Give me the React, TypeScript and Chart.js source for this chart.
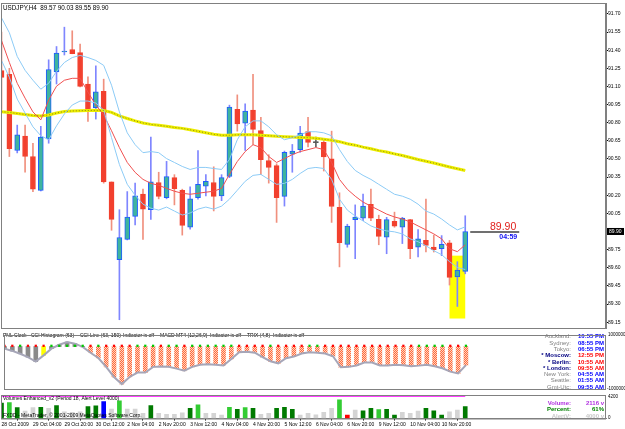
import React, { useEffect, useRef } from "react";
import { Chart, registerables } from "chart.js";
Chart.register(...registerables);

const TITLE = "USDJPY,H4  89.57 90.03 89.55 89.90";

const OPEN = [91.23, 91.2, 90.57, 90.69, 90.52, 90.24, 90.665, 91.22, 91.385, 91.405, 91.38, 91.12, 90.925, 91.06, 90.31, 89.667, 89.835, 90.025, 90.21, 90.08, 90.305, 90.18, 90.345, 90.24, 89.935, 90.18, 90.275, 90.305, 90.195, 90.355, 90.91, 90.795, 90.905, 90.735, 90.487, 90.445, 90.19, 90.54, 90.577, 90.727, 90.635, 90.637, 90.5, 90.1, 89.793, 89.998, 90.01, 90.125, 90.0, 89.853, 89.985, 89.935, 89.998, 89.77, 89.826, 89.77, 89.757, 89.807, 89.525, 89.57];
const HIGH = [91.55, 91.25, 90.78, 90.78, 90.63, 90.77, 91.32, 91.43, 91.59, 91.56, 91.45, 91.18, 91.27, 91.16, 90.31, 90.08, 90.23, 90.3, 90.25, 90.68, 90.39, 90.48, 90.37, 90.25, 90.27, 90.57, 90.37, 90.435, 90.37, 90.945, 91.03, 90.955, 91.2, 90.845, 90.535, 90.46, 90.565, 90.62, 90.77, 90.845, 90.68, 90.665, 90.73, 90.22, 89.96, 90.12, 90.21, 90.25, 90.035, 90.017, 90.06, 90.017, 90.0, 89.916, 90.167, 89.87, 89.866, 89.826, 89.65, 90.03];
const LOW = [90.91, 90.52, 90.55, 90.39, 90.23, 90.235, 90.63, 91.12, 91.36, 91.37, 91.095, 90.81, 90.83, 90.3, 89.91, 89.17, 89.83, 89.955, 89.835, 90.0, 90.17, 90.17, 90.12, 89.87, 89.92, 90.167, 90.195, 90.07, 90.155, 90.345, 90.73, 90.57, 90.62, 90.37, 90.3, 89.975, 90.11, 90.39, 90.555, 90.6, 90.6, 90.4, 89.975, 89.607, 89.77, 89.675, 89.99, 89.99, 89.79, 89.716, 89.935, 89.8, 89.675, 89.69, 89.73, 89.73, 89.7, 89.457, 89.28, 89.55];
const CLOSE = [91.175, 90.585, 90.7, 90.52, 90.25, 90.68, 91.24, 91.375, 91.39, 91.37, 91.1, 90.905, 91.055, 90.31, 90.0, 89.85, 90.02, 90.195, 90.085, 90.31, 90.19, 90.355, 90.255, 89.95, 90.17, 90.29, 90.315, 90.19, 90.345, 90.93, 90.79, 90.895, 90.745, 90.495, 90.43, 90.18, 90.555, 90.565, 90.715, 90.637, 90.635, 90.517, 90.107, 89.807, 89.944, 90.02, 90.11, 90.01, 89.86, 89.998, 89.943, 90.01, 89.757, 89.84, 89.785, 89.75, 89.793, 89.52, 89.58, 89.9];

const BB_UPPER = [91.667, 91.544, 91.348, 91.233, 91.151, 91.077, 91.126, 91.225, 91.298, 91.339, 91.356, 91.339, 91.315, 91.274, 91.11, 90.889, 90.716, 90.618, 90.552, 90.561, 90.552, 90.503, 90.471, 90.438, 90.413, 90.43, 90.43, 90.421, 90.413, 90.495, 90.659, 90.766, 90.815, 90.815, 90.766, 90.7, 90.659, 90.676, 90.7, 90.725, 90.725, 90.716, 90.692, 90.577, 90.479, 90.405, 90.364, 90.331, 90.29, 90.249, 90.208, 90.192, 90.167, 90.126, 90.069, 90.044, 90.003, 89.954, 89.913, 89.938];
const BB_LOWER = [91.315, 91.175, 90.995, 90.88, 90.766, 90.692, 90.659, 90.774, 90.872, 90.946, 90.979, 90.979, 90.962, 90.905, 90.676, 90.454, 90.29, 90.2, 90.126, 90.093, 90.077, 90.102, 90.069, 90.036, 90.053, 90.085, 90.102, 90.085, 90.11, 90.167, 90.241, 90.315, 90.364, 90.372, 90.331, 90.29, 90.298, 90.331, 90.38, 90.421, 90.43, 90.421, 90.331, 90.167, 90.077, 90.028, 89.987, 89.946, 89.921, 89.905, 89.897, 89.88, 89.839, 89.815, 89.782, 89.741, 89.708, 89.651, 89.602, 89.585];
const RED_MA = [91.479, 91.298, 91.126, 91.003, 90.889, 90.823, 90.987, 91.102, 91.151, 91.167, 91.167, 91.053, 90.946, 90.864, 90.733, 90.594, 90.471, 90.389, 90.331, 90.298, 90.282, 90.257, 90.233, 90.216, 90.208, 90.216, 90.225, 90.233, 90.257, 90.372, 90.479, 90.561, 90.618, 90.594, 90.52, 90.471, 90.503, 90.536, 90.561, 90.577, 90.594, 90.577, 90.471, 90.331, 90.249, 90.192, 90.143, 90.11, 90.077, 90.044, 90.02, 90.003, 89.979, 89.946, 89.913, 89.88, 89.839, 89.757, 89.733, 89.79];
const YELLOW_MA = [90.891, 90.885, 90.876, 90.868, 90.86, 90.856, 90.864, 90.88, 90.893, 90.897, 90.899, 90.901, 90.902, 90.901, 90.885, 90.856, 90.835, 90.815, 90.798, 90.786, 90.778, 90.77, 90.761, 90.753, 90.741, 90.729, 90.716, 90.704, 90.696, 90.696, 90.7, 90.7, 90.7, 90.696, 90.692, 90.688, 90.684, 90.681, 90.678, 90.676, 90.671, 90.663, 90.655, 90.643, 90.626, 90.614, 90.598, 90.585, 90.569, 90.557, 90.542, 90.528, 90.512, 90.495, 90.481, 90.466, 90.45, 90.434, 90.419, 90.405];

const CCI = [-12, -25, -41, -60, -85, -50, -12, 10, 25, 16, -2, -35, -65, -115, -172, -212, -172, -147, -147, -115, -113, -115, -125, -137, -115, -103, -100, -103, -107, -70, -32, -30, -35, -60, -83, -95, -66, -57, -40, -33, -35, -40, -55, -117, -115, -107, -90, -90, -107, -107, -103, -106, -112, -108, -103, -112, -123, -142, -152, -105];
// g = gray, y = yellow, h = hatched
const CCI_KIND = "ggggghggggghhhhhhhhhhhhhhhhhhhhhhhhhhhhhhhhhhhhhhhhhhhhhhhhh".split("").map((c, i) => (i === 5 ? "y" : i < 11 ? "g" : "h"));
const SIGNAL = "rrgrrrgggggrgrrrrgggrggrggggggrrrrgrrrrggrrrrrrrrrrrrggggrrg".split("");

const VOLUME = [2745, 2855, 1940, 1336, 1940, 2013, 1830, 2306, 1208, 1098, 1208, 2123, 2251, 3038, 1702, 3166, 1702, 1702, 915, 2306, 915, 732, 732, 1025, 1830, 2434, 915, 915, 604, 2013, 1647, 1940, 1830, 732, 915, 1830, 2013, 1647, 604, 915, 640, 1098, 1830, 3349, 604, 1519, 1391, 1830, 1574, 1647, 604, 1098, 915, 1336, 1830, 1391, 604, 1208, 1519, 2116];
const VOLUME_KIND = "dldggdgdgggddbglgggdggggdlgggldldggdddggggglrgddlddgggdddggdl".split("");
const ALERT_LEVEL = 4000;

const PRICE_TICKS = [89.15, 89.3, 89.45, 89.6, 89.75, 89.9, 90.05, 90.2, 90.35, 90.5, 90.65, 90.8, 90.95, 91.1, 91.25, 91.4, 91.55, 91.7];
const X_TICK_INDEX = [0, 4, 8, 12, 16, 20, 24, 28, 32, 36, 40, 44, 48, 52, 56];
const X_TICK_LABELS = ["28 Oct 2009", "29 Oct 04:00", "29 Oct 20:00", "30 Oct 12:00", "2 Nov 04:00", "2 Nov 20:00", "3 Nov 12:00", "4 Nov 04:00", "4 Nov 20:00", "5 Nov 12:00", "6 Nov 04:00", "6 Nov 20:00", "9 Nov 12:00", "10 Nov 04:00", "10 Nov 20:00"];

const CITIES = ["Auckland:", "Sydney:", "Tokyo:", "* Moscow:", "* Berlin:", "* London:", "New York:", "Seattle:", "Gmt-Utc:"];
const CITY_TIMES = ["10:55 PM", "08:55 PM", "06:55 PM", "12:55 PM", "10:55 AM", "09:55 AM", "04:55 AM", "01:55 AM", "09:55 AM"];
const CITY_OPEN = [false, false, false, true, true, true, false, false, false];

const IND_LABELS = ["PNL Clock", "CCI Histogram (63)", "CCI Line (63, 150)", "Indicator is off", "MACD MT4 (12,26,9)", "Indicator is off", "TRIX (4,8)", "Indicator is off"];
const IND_LABEL_X = [3, 31, 80, 123, 160, 210, 247, 273];

const LAST_PRICE = 89.9;
const TIMER = "04:59";
const HIGHLIGHT = { x0: 57, x1: 59, top: 89.7, bottom: 89.18 };

const X_MIN = -0.064;
const X_MAX = 76.91;
const FONT = "'Liberation Sans', Arial, sans-serif";

const idx = CLOSE.map((_, i) => i);

export default function App() {
  const mainRef = useRef<HTMLCanvasElement>(null);
  const indRef = useRef<HTMLCanvasElement>(null);
  const volRef = useRef<HTMLCanvasElement>(null);

  useEffect(() => {
    const bull = idx.map((i) => CLOSE[i] > OPEN[i]);
    const doji = idx.map((i) => CLOSE[i] === OPEN[i]);
    const bodyFill = idx.map((i) => (doji[i] ? "#505050" : bull[i] ? "#3FB49E" : "#F2402E"));
    const bodyBorder = idx.map((i) => (doji[i] ? "#505050" : bull[i] ? "#1F5CFF" : "#F2402E"));
    const wickColor = idx.map((i) => (doji[i] ? "#606060" : bull[i] ? "#7F86FF" : "#F0907E"));

    const framePlugin = {
      id: "frame",
      afterDraw(chart: any) {
        const { ctx, chartArea: a } = chart;
        ctx.save();
        ctx.strokeStyle = "#808080";
        ctx.lineWidth = 1;
        ctx.strokeRect(a.left + 0.5, a.top + 0.5, a.right - a.left - 1, a.bottom - a.top);
        ctx.restore();
      },
    };

    const mainPlugin = {
      id: "mainDeco",
      beforeDatasetsDraw(chart: any) {
        const { ctx, scales } = chart;
        const x0 = scales.x.getPixelForValue(HIGHLIGHT.x0);
        const x1 = scales.x.getPixelForValue(HIGHLIGHT.x1);
        const y0 = scales.y.getPixelForValue(HIGHLIGHT.top);
        const y1 = scales.y.getPixelForValue(HIGHLIGHT.bottom);
        ctx.save();
        ctx.fillStyle = "#FFFF00";
        ctx.fillRect(x0, y0, x1 - x0, y1 - y0);
        ctx.restore();
      },
      afterDraw(chart: any) {
        const { ctx, scales, chartArea: a } = chart;
        ctx.save();
        ctx.fillStyle = "#000";
        ctx.font = `6.3px ${FONT}`;
        ctx.textBaseline = "middle";
        ctx.fillText(TITLE, 3, 8);
        const yp = scales.y.getPixelForValue(LAST_PRICE);
        const xl = scales.x.getPixelForValue(CLOSE.length - 1);
        ctx.strokeStyle = "#404040";
        ctx.lineWidth = 1.5;
        ctx.beginPath();
        ctx.moveTo(xl + 5, Math.round(yp) + 1);
        ctx.lineTo(xl + 54, Math.round(yp) + 1);
        ctx.stroke();
        ctx.textAlign = "right";
        ctx.fillStyle = "#E0201C";
        ctx.font = `10.5px ${FONT}`;
        ctx.fillText(LAST_PRICE.toFixed(2), xl + 51, yp - 4);
        ctx.fillStyle = "#1010F0";
        ctx.font = `bold 7px ${FONT}`;
        ctx.fillText(TIMER, xl + 52, yp + 6);
        ctx.fillStyle = "#000";
        ctx.fillRect(a.right + 1, yp - 3.5, 17, 7);
        ctx.fillStyle = "#fff";
        ctx.textAlign = "left";
        ctx.font = `5px ${FONT}`;
        ctx.fillText(LAST_PRICE.toFixed(2), a.right + 3, yp);
        ctx.restore();
      },
    };

    const main = new Chart(mainRef.current!, {
      type: "bar",
      data: {
        datasets: [
          { type: "line", data: idx.map((i) => ({ x: i, y: BB_UPPER[i] })), borderColor: "#8CCBF6", borderWidth: 1, pointRadius: 0, order: 0 },
          { type: "line", data: idx.map((i) => ({ x: i, y: BB_LOWER[i] })), borderColor: "#8CCBF6", borderWidth: 1, pointRadius: 0, order: 0 },
          { type: "line", data: idx.map((i) => ({ x: i, y: RED_MA[i] })), borderColor: "#F05050", borderWidth: 1, pointRadius: 0, order: 0 },
          { type: "line", data: idx.map((i) => ({ x: i, y: YELLOW_MA[i] })), borderColor: "#EDED00", borderWidth: 3, pointRadius: 0, order: 0 },
          { type: "line", data: idx.map((i) => ({ x: i, y: YELLOW_MA[i] })), borderColor: "#8A8A10", borderWidth: 1, borderDash: [1, 2], pointRadius: 0, order: -1 },
          { type: "bar", data: idx.map((i) => ({ x: i, y: [OPEN[i], CLOSE[i]] })), backgroundColor: bodyFill, borderColor: bodyBorder, borderWidth: 1, borderSkipped: false, barThickness: 5, minBarLength: 1, grouped: false, order: 1 },
          { type: "bar", data: idx.map((i) => ({ x: i, y: [LOW[i], HIGH[i]] })), backgroundColor: wickColor, barThickness: 1, grouped: false, order: 2 },
        ] as any,
      },
      options: {
        animation: false,
        responsive: false,
        maintainAspectRatio: false,
        layout: { padding: { left: 1, top: 2, right: 0, bottom: 1 } },
        plugins: { legend: { display: false }, tooltip: { enabled: false } },
        scales: {
          x: { type: "linear", min: X_MIN, max: X_MAX, display: false, offset: false },
          y: {
            position: "right",
            min: 89.1016,
            max: 91.79,
            afterBuildTicks: (s: any) => {
              s.ticks = PRICE_TICKS.map((v) => ({ value: v }));
            },
            afterFit: (s: any) => {
              s.width = 19;
            },
            ticks: { callback: (v: any) => Number(v).toFixed(2), font: { size: 5, family: FONT }, color: "#000", padding: 0 },
            grid: { drawOnChartArea: false, tickLength: 2, color: "#000" },
            border: { color: "#808080" },
          },
        },
      } as any,
      plugins: [mainPlugin, framePlugin],
    });

    const pc = document.createElement("canvas");
    pc.width = 2;
    pc.height = 2;
    const pctx = pc.getContext("2d")!;
    pctx.fillStyle = "#FFD2BE";
    pctx.fillRect(0, 0, 2, 2);
    pctx.fillStyle = "#FF6A3C";
    pctx.fillRect(0, 0, 1, 1);
    pctx.fillRect(1, 1, 1, 1);
    const hatch = pctx.createPattern(pc, "repeat");
    const cciFill = CCI_KIND.map((k) => (k === "y" ? "#FFFF00" : k === "g" ? "#8A8A8A" : hatch));

    const indPlugin = {
      id: "indDeco",
      afterDraw(chart: any) {
        const { ctx, chartArea: a } = chart;
        ctx.save();
        ctx.textBaseline = "middle";
        ctx.fillStyle = "#000";
        ctx.font = `5px ${FONT}`;
        IND_LABELS.forEach((t, i) => ctx.fillText(t, IND_LABEL_X[i], 5));
        ctx.textAlign = "right";
        CITIES.forEach((c, i) => {
          const y = 5.7 + i * 6.3;
          ctx.font = CITY_OPEN[i] ? `bold 6px ${FONT}` : `6px ${FONT}`;
          ctx.fillStyle = CITY_OPEN[i] ? "#000080" : "#808080";
          ctx.fillText(c, 571, y);
          ctx.font = `bold 6px ${FONT}`;
          ctx.fillStyle = CITY_OPEN[i] ? "#FF0000" : "#0000FF";
          ctx.fillText(CITY_TIMES[i], 604, y);
        });
        ctx.textAlign = "left";
        ctx.fillStyle = "#000";
        ctx.font = `4.5px ${FONT}`;
        ctx.fillText("1000000", a.right + 2, 4);
        ctx.fillText("-1000000", a.right + 1, 58);
        ctx.restore();
      },
    };

    const ind = new Chart(indRef.current!, {
      type: "bar",
      data: {
        datasets: [
          { type: "line", data: idx.map((i) => ({ x: i, y: 4 })), showLine: false, pointStyle: "rect", pointRadius: 1.6, pointBackgroundColor: SIGNAL.map((s) => (s === "g" ? "#00C800" : "#FF0000")), pointBorderWidth: 0, order: 0 },
          { type: "line", data: idx.map((i) => ({ x: i, y: CCI[i] })), borderColor: "#A6A6B8", borderWidth: 2, pointRadius: 0, order: 1 },
          { type: "bar", data: idx.map((i) => ({ x: i, y: [0, CCI[i]] })), backgroundColor: cciFill, barThickness: 4, grouped: false, order: 2 },
        ] as any,
      },
      options: {
        animation: false,
        responsive: false,
        maintainAspectRatio: false,
        layout: { padding: { left: 1, top: 1, right: 19, bottom: 0 } },
        plugins: { legend: { display: false }, tooltip: { enabled: false } },
        scales: {
          x: { type: "linear", min: X_MIN, max: X_MAX, display: false, offset: false },
          y: { min: -240, max: 65, display: false },
        },
      } as any,
      plugins: [indPlugin, framePlugin],
    });

    const volColors: Record<string, string> = { d: "#007A00", l: "#33CC33", g: "#D4D4D4", b: "#0000FF", r: "#FF0000" };

    const volPlugin = {
      id: "volDeco",
      afterDraw(chart: any) {
        const { ctx, chartArea: a } = chart;
        ctx.save();
        ctx.textBaseline = "middle";
        ctx.fillStyle = "#000";
        ctx.font = `5px ${FONT}`;
        ctx.fillText("Volumes Enhanced_v2 (Period 18, Alert Level 4000)", 3, 5.5);
        ctx.fillText("FXDD - MetaTrader, \u00A9 2001-2009 MetaQuotes Software Corp.", 3, 22.5);
        const rows = [
          ["Volume:", VOLUME[VOLUME.length - 1] + " v", "#B030E0"],
          ["Percent:", "61%", "#008000"],
          ["AlertV:", ALERT_LEVEL + " v", "#C8C8C8"],
        ];
        ctx.font = `bold 6px ${FONT}`;
        ctx.textAlign = "right";
        rows.forEach((r, i) => {
          ctx.fillStyle = r[2];
          ctx.fillText(r[0], 571, 10 + i * 6.6);
          ctx.fillText(r[1], 604, 10 + i * 6.6);
        });
        ctx.textAlign = "left";
        ctx.fillStyle = "#000";
        ctx.font = `4.5px ${FONT}`;
        ctx.fillText("4200", a.right + 2, a.top + 2);
        ctx.fillText("0", a.right + 2, a.bottom - 1);
        ctx.restore();
      },
    };

    const vol = new Chart(volRef.current!, {
      type: "bar",
      data: {
        datasets: [
          { type: "line", data: idx.map((i) => ({ x: i, y: ALERT_LEVEL })), borderColor: "#FF00FF", borderWidth: 1.5, pointRadius: 0, order: 0 },
          { type: "bar", data: idx.map((i) => ({ x: i, y: VOLUME[i] })), backgroundColor: VOLUME_KIND.map((k) => volColors[k]), barThickness: 4, grouped: false, order: 1 },
        ] as any,
      },
      options: {
        animation: false,
        responsive: false,
        maintainAspectRatio: false,
        layout: { padding: { left: 1, top: 2, right: 19, bottom: 0 } },
        plugins: { legend: { display: false }, tooltip: { enabled: false } },
        scales: {
          x: {
            type: "linear",
            min: X_MIN,
            max: X_MAX,
            offset: false,
            afterBuildTicks: (s: any) => {
              s.ticks = X_TICK_INDEX.map((v) => ({ value: v }));
            },
            afterFit: (s: any) => {
              s.height = 10.5;
            },
            ticks: { callback: (_v: any, i: number) => X_TICK_LABELS[i], align: "start", autoSkip: false, maxRotation: 0, minRotation: 0, font: { size: 5, family: FONT }, color: "#000", padding: 1 },
            grid: { drawOnChartArea: false, tickLength: 2, color: "#000" },
            border: { color: "#808080" },
          },
          y: { min: 0, max: 4200, display: false },
        },
      } as any,
      plugins: [volPlugin, framePlugin],
    });

    return () => {
      main.destroy();
      ind.destroy();
      vol.destroy();
    };
  }, []);

  return (
    <div style={{ position: "fixed", left: 0, top: 0, width: 625, height: 429, background: "#fff", overflow: "hidden" }}>
      <canvas ref={mainRef} width={625} height={331} style={{ position: "absolute", left: 0, top: 0 }} />
      <canvas ref={indRef} width={625} height={62} style={{ position: "absolute", left: 0, top: 331 }} />
      <canvas ref={volRef} width={625} height={36} style={{ position: "absolute", left: 0, top: 393 }} />
    </div>
  );
}
